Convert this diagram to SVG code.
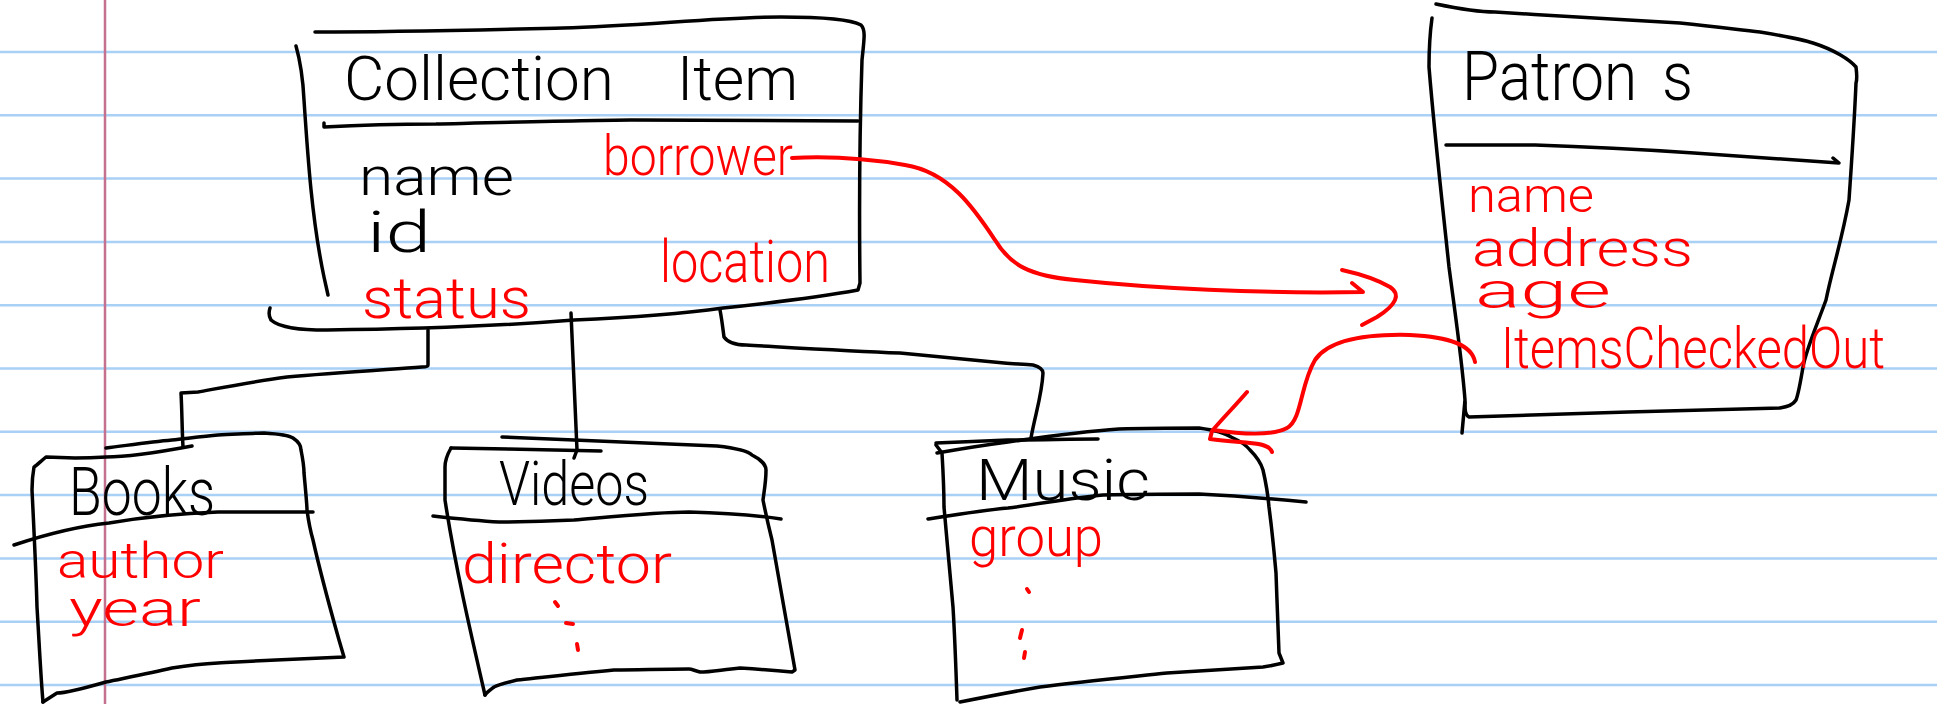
<svg xmlns="http://www.w3.org/2000/svg" width="1937" height="704" viewBox="0 0 1937 704">
  <style>
    .rule { stroke: #a9d0f5; stroke-width: 2.5; }
    .margin { stroke: #c4708f; stroke-width: 2.5; }
    .ink { fill: none; stroke: #000; stroke-width: 3.5; stroke-linecap: round; stroke-linejoin: round; }
    .red { fill: none; stroke: #ff0000; stroke-width: 4; stroke-linecap: round; stroke-linejoin: round; }
    .t { font-family: Roboto, Lato, "Liberation Sans", sans-serif; font-weight: 300; }
    .tk { fill: #000; }
    .tr { fill: #ff0000; }
  </style>

  <!-- ruled notebook paper -->
  <g id="paper">
    <rect x="0" y="0" width="1937" height="704" fill="#fff"/>
    <line class="rule" x1="0" y1="52" x2="1937" y2="52"/>
    <line class="rule" x1="0" y1="115.3" x2="1937" y2="115.3"/>
    <line class="rule" x1="0" y1="178.6" x2="1937" y2="178.6"/>
    <line class="rule" x1="0" y1="241.9" x2="1937" y2="241.9"/>
    <line class="rule" x1="0" y1="305.2" x2="1937" y2="305.2"/>
    <line class="rule" x1="0" y1="368.5" x2="1937" y2="368.5"/>
    <line class="rule" x1="0" y1="431.8" x2="1937" y2="431.8"/>
    <line class="rule" x1="0" y1="495.1" x2="1937" y2="495.1"/>
    <line class="rule" x1="0" y1="558.4" x2="1937" y2="558.4"/>
    <line class="rule" x1="0" y1="621.7" x2="1937" y2="621.7"/>
    <line class="rule" x1="0" y1="685" x2="1937" y2="685"/>
    <line class="margin" x1="105" y1="0" x2="105" y2="704"/>
  </g>

  <!-- Collection Item class box -->
  <g id="node-collection-item">
    <path class="ink" d="M315,32 C400,32 480,30 563,28 C640,26 720,17 781,17 C820,17 850,19 861,25 C866,30 864,40 862,60 C860,120 859,200 860,283 L858,290 C820,297 770,303 723,308 C680,314 620,318 574,320 C500,326 420,329 327,330 C300,330 280,328 271,320 C268,315 269,311 270,308"/>
    <path class="ink" d="M296,46 C300,60 303,80 304,100 C308,160 312,220 324,277 L328,295"/>
    <path class="ink" d="M324,123 L324,127 C360,125 400,124 436,124 C520,122 600,120 631,120 C720,120 800,121 858,121"/>
    <text class="t tk" font-size="62" y="100"><tspan x="344" textLength="270" lengthAdjust="spacingAndGlyphs">Collection</tspan><tspan x="677" textLength="121" lengthAdjust="spacingAndGlyphs">Item</tspan></text>
    <text class="t tk" font-size="54" x="359" y="195" textLength="155" lengthAdjust="spacingAndGlyphs">name</text>
    <text class="t tk" font-size="58" x="367" y="252" textLength="64" lengthAdjust="spacingAndGlyphs">id</text>
    <text class="t tr" font-size="58" x="362" y="318" textLength="169" lengthAdjust="spacingAndGlyphs">status</text>
    <text class="t tr" font-size="56" x="603" y="175" textLength="190" lengthAdjust="spacingAndGlyphs">borrower</text>
    <text class="t tr" font-size="60" x="660" y="282" textLength="170" lengthAdjust="spacingAndGlyphs">location</text>
  </g>

  <!-- Patrons class box -->
  <g id="node-patrons">
    <path class="ink" d="M1436,4 C1455,8 1475,12 1495,12 C1560,16 1630,20 1680,23 C1720,27 1740,30 1760,32 C1790,37 1810,42 1813,43 C1835,50 1850,60 1856,67 C1857,75 1857,80 1856,83 C1854,130 1851,170 1849,200 C1842,240 1832,270 1826,300 C1815,330 1806,350 1803,367 C1800,385 1798,395 1796,400 C1793,405 1787,407 1780,408 C1720,410 1670,411 1628,412 C1560,414 1510,416 1469,417 C1465,415 1465,410 1465,402"/>
    <path class="ink" d="M1432,18 C1429,40 1429,55 1429,67 C1435,140 1442,200 1449,267 C1456,320 1462,360 1465,400 L1462,433"/>
    <path class="ink" d="M1446,145 C1480,145 1510,145 1535,145 C1600,147 1650,150 1694,153 C1750,157 1800,160 1839,163 L1833,158"/>
    <text class="t tk" font-size="68" y="100"><tspan x="1462" textLength="175" lengthAdjust="spacingAndGlyphs">Patron</tspan><tspan x="1662" textLength="31" lengthAdjust="spacingAndGlyphs">s</tspan></text>
    <text class="t tr" font-size="48" x="1468" y="212" textLength="126" lengthAdjust="spacingAndGlyphs">name</text>
    <text class="t tr" font-size="52" x="1472" y="266" textLength="221" lengthAdjust="spacingAndGlyphs">address</text>
    <text class="t tr" font-size="50" x="1475" y="308" textLength="136" lengthAdjust="spacingAndGlyphs">age</text>
    <text class="t tr" font-size="58" x="1501" y="368" textLength="384" lengthAdjust="spacingAndGlyphs">ItemsCheckedOut</text>
  </g>

  <!-- Books subclass box -->
  <g id="node-books">
    <path class="ink" d="M106,448 C130,445 150,442 172,440 C190,438 205,436 218,435 C240,434 255,433 264,433 C280,434 290,436 293,438 C299,442 301,446 301,450 C303,460 304,468 304,473 C306,495 307,505 307,510 C309,525 311,533 313,540 C322,580 332,615 339,640 L344,657 C320,658 300,659 276,660 C250,661 235,662 218,663 C200,664 185,666 172,668 C150,673 125,678 106,682 C85,688 65,693 57,693 L43,702"/>
    <path class="ink" d="M192,446 C160,452 130,457 106,457 C90,458 80,458 75,458 L46,457 C40,462 36,466 34,467 C32,478 32,485 32,490 C34,530 36,570 37,607 C39,640 41,680 43,702"/>
    <path class="ink" d="M14,545 C50,533 80,526 109,523 C150,516 190,513 218,512 C260,512 290,512 313,512"/>
    <text class="t tk" font-size="66" x="69" y="515" textLength="146" lengthAdjust="spacingAndGlyphs">Books</text>
    <text class="t tr" font-size="50" x="57" y="578" textLength="167" lengthAdjust="spacingAndGlyphs">author</text>
    <text class="t tr" font-size="50" x="69" y="626" textLength="132" lengthAdjust="spacingAndGlyphs">year</text>
  </g>

  <!-- Videos subclass box -->
  <g id="node-videos">
    <path class="ink" d="M502,437 C530,438 555,439 574,440 C630,442 680,444 717,446 C735,448 748,451 752,455 C762,460 766,466 766,470 C766,482 764,492 763,500 C766,515 769,528 772,540 C780,585 788,630 795,670 L792,672 C770,670 755,669 740,668 C720,670 710,672 700,672 C695,671 692,669 689,669 C660,669 640,670 614,670 C580,673 545,677 517,680 C505,683 498,685 494,687 C490,690 487,692 485,695"/>
    <path class="ink" d="M451,448 C500,449 560,450 601,451"/>
    <path class="ink" d="M451,448 C447,455 445,462 445,467 C445,478 445,490 445,500 C455,565 470,630 485,695"/>
    <path class="ink" d="M433,516 C460,519 480,521 499,522 C530,522 555,521 574,520 C620,516 660,512 689,512 C730,513 760,516 781,519"/>
    <text class="t tk" font-size="62" x="499" y="505" textLength="150" lengthAdjust="spacingAndGlyphs">Videos</text>
    <text class="t tr" font-size="56" x="462" y="583" textLength="210" lengthAdjust="spacingAndGlyphs">director</text>
    <path class="red" d="M555,602 L558,606 M566,623 L573,624 M577,644 L578,650"/>
  </g>

  <!-- Music subclass box -->
  <g id="node-music">
    <path class="ink" d="M936,443 C960,442 985,441 1008,440 C1040,440 1070,439 1098,439"/>
    <path class="ink" d="M937,453 C960,449 985,445 1008,442 C1050,436 1090,431 1119,429 C1150,428 1180,428 1199,428 C1213,430 1225,433 1231,437 C1240,441 1246,445 1250,450 C1256,456 1261,463 1263,470 C1266,483 1268,495 1269,507 C1272,530 1274,550 1276,573 C1277,600 1278,630 1279,653 L1283,663 C1275,665 1270,666 1263,667 C1230,669 1200,671 1167,673 C1120,678 1080,682 1040,687 C1010,692 985,697 960,702"/>
    <path class="ink" d="M936,445 L942,453 C943,470 944,490 944,507 C947,540 950,575 953,607 C955,640 956,670 957,700"/>
    <path class="ink" d="M928,519 C960,514 985,510 1008,508 C1040,504 1070,498 1103,495 C1140,494 1170,494 1199,494 C1240,496 1275,499 1306,502"/>
    <text class="t tk" font-size="58" x="976" y="500" textLength="174" lengthAdjust="spacingAndGlyphs">Music</text>
    <text class="t tr" font-size="56" x="969" y="556" textLength="134" lengthAdjust="spacingAndGlyphs">group</text>
    <path class="red" d="M1027,589 L1029,592 M1022,630 L1020,638 M1025,652 L1024,658"/>
  </g>

  <!-- connectors: inheritance lines and associations -->
  <g id="connectors">
    <path class="ink" d="M428,330 L428,365 C428,367 425,367 422,367 C380,370 330,373 287,377 C250,382 220,388 198,392 L181,393 C182,410 182,430 183,447"/>
    <path class="ink" d="M571,313 C573,350 575,400 577,450 L574,458"/>
    <path class="ink" d="M720,310 C722,320 723,330 724,337 C728,343 735,345 746,345 C800,348 850,351 900,353 C940,357 980,361 1004,363 C1015,364 1025,364 1033,365 C1040,367 1043,370 1043,373 C1042,395 1035,415 1031,438"/>
    <path class="red" d="M792,158 C830,156 870,159 905,165 C950,172 975,210 995,240 C1010,265 1030,276 1075,280 C1150,288 1260,294 1363,292 L1352,283"/>
    <path class="red" d="M1342,270 C1360,274 1378,280 1390,287 C1396,291 1397,296 1395,300 C1392,307 1385,312 1377,317 L1362,325"/>
    <path class="red" d="M1475,362 C1472,345 1450,337 1410,335 C1370,334 1330,338 1315,360 C1300,385 1302,420 1287,428 C1272,436 1240,434 1213,430"/>
    <path class="red" d="M1247,392 C1235,406 1222,419 1212,431 L1210,439 C1225,441 1240,442 1250,443 C1262,444 1270,446 1272,452"/>
  </g>
</svg>
